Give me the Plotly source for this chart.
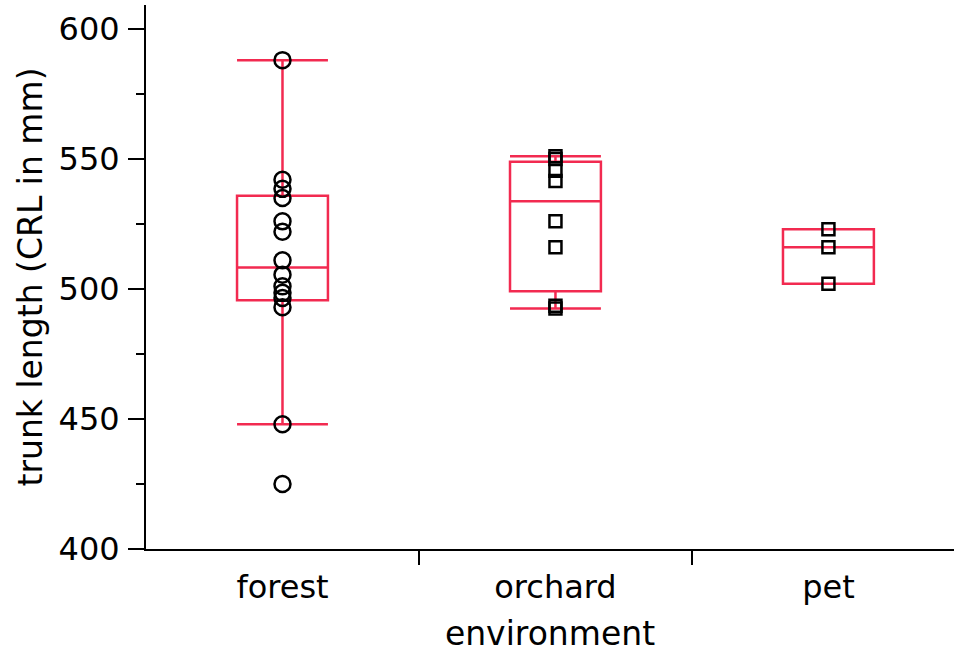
import plotly.graph_objects as go
import numpy as np

categories = ["forest", "orchard", "pet"]
forest = [588, 542, 538.5, 535, 526, 522, 511, 505.5, 501, 498.5, 496.5, 493, 448, 425]
orchard = [551, 550, 545.5, 541.5, 526, 516, 493.5, 492.5]
pet = [523, 516, 502]
groups = [forest, orchard, pet]
symbols = ["circle-open", "square-open", "square-open"]
sizes = [16, 12, 12]

RED = "#F22A50"
FONT = "DejaVu Sans"
FS = 32


def quant(vals, p):
    s = sorted(vals)
    n = len(s)
    pos = (n + 1) * p
    lo = int(np.floor(pos))
    frac = pos - lo
    lo = min(max(lo, 1), n)
    hi = min(lo + 1, n)
    return s[lo - 1] + frac * (s[hi - 1] - s[lo - 1])


q1s, meds, q3s, lfs, ufs = [], [], [], [], []
for g in groups:
    q1 = quant(g, 0.25)
    q3 = quant(g, 0.75)
    med = float(np.median(g))
    iqr = q3 - q1
    lf = min(v for v in g if v >= q1 - 1.5 * iqr)
    uf = max(v for v in g if v <= q3 + 1.5 * iqr)
    q1s.append(q1); meds.append(med); q3s.append(q3); lfs.append(lf); ufs.append(uf)

xpos = list(range(len(categories)))

fig = go.Figure()
fig.add_trace(go.Box(
    x=xpos, q1=q1s, median=meds, q3=q3s, lowerfence=lfs, upperfence=ufs,
    width=0.333, whiskerwidth=1,
    line=dict(color=RED, width=2.5), fillcolor="rgba(0,0,0,0)",
    boxpoints=False, showlegend=False, hoverinfo="skip",
))
for i, g in enumerate(groups):
    fig.add_trace(go.Scatter(
        x=[xpos[i]] * len(g), y=g, mode="markers",
        marker=dict(symbol=symbols[i], size=sizes[i], color="black",
                    line=dict(color="black", width=2.5)),
        showlegend=False,
    ))

fig.update_layout(
    width=954, height=654,
    margin=dict(l=146, r=0, t=5, b=105),
    paper_bgcolor="white", plot_bgcolor="white",
    font=dict(family=FONT, size=FS, color="black"),
)
fig.update_xaxes(
    range=[-0.5, 2.46], tickvals=xpos, ticktext=categories, ticks="",
    showline=True, linecolor="black", linewidth=2, showgrid=False, zeroline=False,
    ticklabelstandoff=9,
    minor=dict(tickvals=[0.5, 1.5], ticks="outside", ticklen=14, tickwidth=2, tickcolor="black"),
    title=dict(text="environment", standoff=16, font=dict(size=33)),
)
fig.update_yaxes(
    range=[400, 609.2], tickvals=[400, 450, 500, 550, 600], ticks="outside",
    ticklen=16, tickwidth=2, tickcolor="black",
    showline=True, linecolor="black", linewidth=2, showgrid=False, zeroline=False,
    minor=dict(dtick=25, tick0=400, ticks="outside", ticklen=8, tickwidth=2, tickcolor="black"),
    ticklabelstandoff=2,
    title=dict(text="trunk length (CRL in mm)", standoff=6, font=dict(size=33)),
)
fig.write_html("out.html")
